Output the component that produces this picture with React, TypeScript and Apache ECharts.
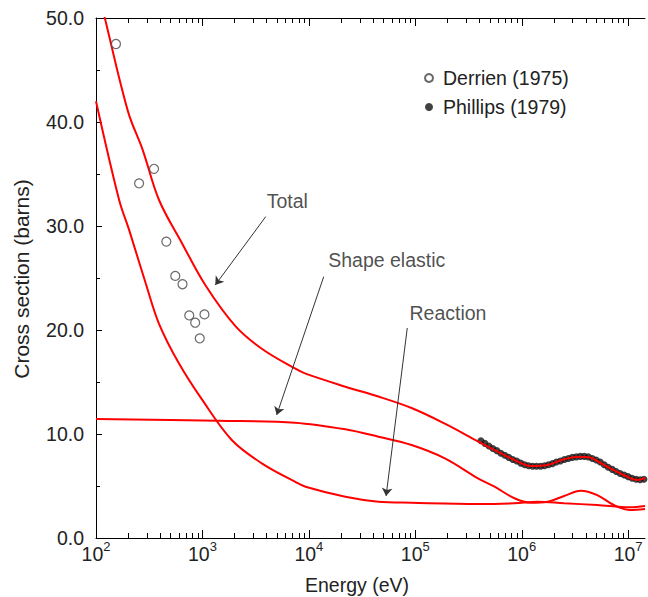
import React, { useEffect, useRef } from 'react';
import * as echarts from 'echarts';

const FONT = '"Liberation Sans", Arial, Helvetica, sans-serif';

// Total cross section (energy eV, barns)
const totalEnergy = [100, 121, 200, 275, 391, 646, 1067, 2032, 3614, 7396, 9311, 22030, 45080, 92260, 189700, 388100, 597000, 918300, 1.213e6, 1.75e6, 2.506e6, 3.459e6, 4.295e6, 5.93e6, 9.12e6, 1.213e7, 1.442e7];
const totalSigma = [53.5, 50.0, 41.0, 37.3, 32.5, 28.3, 24.3, 20.4, 18.2, 16.3, 15.8, 14.55, 13.6, 12.5, 11.0, 9.3, 8.3, 7.34, 6.92, 7.02, 7.57, 7.82, 7.76, 7.02, 6.06, 5.58, 5.77];

// Shape elastic
const elasticEnergy = [100, 1419, 7396, 22030, 45080, 92260, 189700, 388100, 555900, 855000, 1.213e6, 1.75e6, 2.506e6, 3.581e6, 5.129e6, 7.345e6, 1.045e7, 1.442e7];
const elasticSigma = [11.44, 11.28, 11.09, 10.45, 9.74, 8.94, 7.66, 5.74, 4.93, 3.82, 3.39, 3.49, 4.04, 4.55, 4.13, 3.17, 2.69, 2.79];

// Reaction
const reactionEnergy = [100, 165, 205, 293, 391, 601, 993, 1897, 3614, 7396, 9311, 22030, 45080, 92260, 388100, 855000, 1.413e6, 2.506e6, 5.129e6, 1.045e7, 1.442e7];
const reactionSigma = [42.0, 32.5, 29.6, 24.5, 20.6, 16.8, 13.3, 9.4, 7.18, 5.41, 4.93, 3.97, 3.49, 3.39, 3.27, 3.34, 3.49, 3.34, 3.17, 2.95, 3.08];

// Derrien (1975) open circles
const derrienEnergy = [154, 254, 351, 458, 556, 650, 752, 855, 1045, 944];
const derrienSigma = [47.5, 34.1, 35.5, 28.5, 25.2, 24.4, 21.4, 20.7, 21.5, 19.2];

// Phillips (1979) filled circles
const phillipsEnergy = [4.14e5, 4.51e5, 4.92e5, 5.36e5, 5.84e5, 6.37e5, 6.94e5, 7.56e5, 8.24e5, 8.98e5, 9.79e5, 1.067e6, 1.163e6, 1.268e6, 1.38e6, 1.505e6, 1.64e6, 1.787e6, 1.948e6, 2.123e6, 2.314e6, 2.522e6, 2.749e6, 2.996e6, 3.266e6, 3.56e6, 3.88e6, 4.23e6, 4.61e6, 5.02e6, 5.47e6, 5.97e6, 6.5e6, 7.09e6, 7.72e6, 8.42e6, 9.18e6, 1.0e7, 1.09e7, 1.188e7, 1.295e7, 1.41e7];
const phillipsSigma = [9.35, 9.1, 8.85, 8.6, 8.4, 8.15, 7.95, 7.75, 7.55, 7.4, 7.2, 7.05, 6.95, 6.9, 6.9, 6.9, 6.95, 7.05, 7.15, 7.3, 7.4, 7.55, 7.65, 7.75, 7.8, 7.85, 7.85, 7.8, 7.65, 7.5, 7.3, 7.05, 6.8, 6.6, 6.4, 6.2, 6.05, 5.9, 5.75, 5.65, 5.6, 5.65];

// Annotations
const annotationText = ['Total', 'Shape elastic', 'Reaction'];
const annotationEnergy = [6270, 53950, 203000];
const annotationSigma = [32.36, 26.7, 21.6];
const arrowFromEnergy = [3936, 13800, 84140];
const arrowFromSigma = [30.9, 25.13, 20.19];
const arrowToEnergy = [1321, 4990, 53200];
const arrowToSigma = [24.33, 11.83, 4.04];

const xMin = 100;
const xMax = 1.442e7;
const yTicks = [0, 10, 20, 30, 40, 50];

// x-axis tick positions: [value, isMajor]
const xTickValues: number[][] = [];
for (let n = 2; n <= 7; n++) {
  for (let k = 1; k <= 9; k++) {
    const v = k * Math.pow(10, n);
    if (v < xMax) xTickValues.push([v, k === 1 ? 1 : 0]);
  }
}

const zip = (a: number[], b: number[]) => a.map((v, i) => [v, b[i]]);

export default function App() {
  const ref = useRef<HTMLDivElement>(null);
  useEffect(() => {
    document.body.style.margin = '0';
    const chart = echarts.init(ref.current!, null, { renderer: 'svg' });
    const redLine = (name: string, data: number[][]) => ({
      name,
      type: 'line',
      data,
      smooth: 0.35,
      showSymbol: false,
      symbol: 'none',
      lineStyle: { color: '#ff0000', width: 2 },
      itemStyle: { color: '#ff0000' },
      silent: true,
      z: 3,
    });
    const option: any = {
      animation: false,
      backgroundColor: '#ffffff',
      textStyle: { fontFamily: FONT },
      grid: { left: 96, top: 18, right: 0, bottom: 59, containLabel: false },
      legend: {
        data: ['Derrien (1975)', 'Phillips (1979)'],
        orient: 'vertical',
        left: 424,
        top: 68,
        padding: 0,
        itemWidth: 18,
        itemHeight: 8,
        itemGap: 9,
        selectedMode: false,
        textStyle: { fontSize: 19.5, color: '#222', fontFamily: FONT, lineHeight: 18 },
      },
      xAxis: [
        {
          type: 'log',
          logBase: 10,
          min: xMin,
          max: xMax,
          position: 'bottom',
          splitLine: { show: false },
          axisLine: { onZero: false, lineStyle: { color: '#000', width: 1 } },
          axisTick: { show: false },
          axisLabel: {
            margin: 2,
            formatter: (v: number) => {
              const n = Math.round(Math.log10(v));
              if (Math.abs(Math.log10(v) - n) > 1e-6 || n > 7) return '';
              return '{a|10}{b|' + n + '}';
            },
            rich: {
              a: { fontSize: 19.5, lineHeight: 28, color: '#222', fontFamily: FONT },
              b: { fontSize: 13, lineHeight: 13, verticalAlign: 'top', color: '#222', fontFamily: FONT },
            },
          },
        },
        {
          type: 'log',
          logBase: 10,
          min: xMin,
          max: xMax,
          position: 'top',
          splitLine: { show: false },
          axisLine: { onZero: false, lineStyle: { color: '#000', width: 1 } },
          axisTick: { show: false },
          axisLabel: { show: false },
        },
      ],
      yAxis: {
        type: 'value',
        min: yTicks[0],
        max: yTicks[yTicks.length - 1],
        interval: 10,
        splitLine: { show: false },
        axisLine: { show: true, onZero: false, lineStyle: { color: '#000', width: 1 } },
        axisTick: { show: true, inside: true, length: 6, lineStyle: { color: '#000' } },
        minorTick: { show: true, splitNumber: 2, length: 4, lineStyle: { color: '#000' } },
        axisLabel: {
          margin: 12,
          fontSize: 19.5,
          color: '#222',
          fontFamily: FONT,
          formatter: (v: number) => v.toFixed(1),
        },
      },
      graphic: [
        {
          type: 'text',
          x: 357,
          y: 585,
          style: {
            text: 'Energy (eV)',
            fontSize: 19.5,
            fontFamily: FONT,
            fill: '#222',
            align: 'center',
            verticalAlign: 'middle',
          },
        },
        {
          type: 'text',
          x: 21,
          y: 279,
          rotation: Math.PI / 2,
          style: {
            text: 'Cross section (barns)',
            fontSize: 21,
            fontFamily: FONT,
            fill: '#222',
            align: 'center',
            verticalAlign: 'middle',
          },
        },
      ],
      series: [
        {
          type: 'custom',
          name: 'xTicks',
          xAxisIndex: 1,
          yAxisIndex: 0,
          silent: true,
          clip: false,
          data: xTickValues,
          encode: { x: 0, y: 1 },
          renderItem: (params: any, api: any) => {
            const x = Math.round(api.coord([api.value(0), 0])[0]) + 0.5;
            const len = api.value(1) === 1 ? 8 : 5;
            const top = params.coordSys.y;
            const bottom = params.coordSys.y + params.coordSys.height;
            return {
              type: 'group',
              children: [
                { type: 'line', shape: { x1: x, y1: bottom, x2: x, y2: bottom - len }, style: { stroke: '#000', lineWidth: 1 } },
                { type: 'line', shape: { x1: x, y1: top, x2: x, y2: top + len }, style: { stroke: '#000', lineWidth: 1 } },
              ],
            };
          },
        },
        {
          name: 'Phillips (1979)',
          type: 'scatter',
          data: zip(phillipsEnergy, phillipsSigma),
          symbol: 'circle',
          symbolSize: 7,
          itemStyle: { color: '#111' },
          silent: true,
          z: 2,
        },
        redLine('Total', zip(totalEnergy, totalSigma)),
        redLine('Shape elastic', zip(elasticEnergy, elasticSigma)),
        redLine('Reaction', zip(reactionEnergy, reactionSigma)),
        {
          name: 'Derrien (1975)',
          type: 'scatter',
          data: zip(derrienEnergy, derrienSigma),
          symbol: 'circle',
          symbolSize: 9,
          itemStyle: { color: '#ffffff', borderColor: '#444', borderWidth: 1.2 },
          silent: true,
          z: 4,
        },
        {
          name: 'annotations',
          type: 'scatter',
          data: annotationText.map((t, i) => [annotationEnergy[i], annotationSigma[i], t]),
          symbolSize: 1,
          itemStyle: { color: 'rgba(0,0,0,0)' },
          silent: true,
          label: {
            show: true,
            position: 'inside',
            formatter: (p: any) => p.value[2],
            fontSize: 19.5,
            fontFamily: FONT,
            color: '#222',
          },
          markLine: {
            silent: true,
            symbol: ['none', 'arrow'],
            symbolSize: 8,
            label: { show: false },
            lineStyle: { color: '#333', width: 1, type: 'solid' },
            emphasis: { disabled: true },
            data: arrowFromEnergy.map((e, i) => [
              { coord: [e, arrowFromSigma[i]] },
              { coord: [arrowToEnergy[i], arrowToSigma[i]] },
            ]),
          },
          z: 5,
        },
      ],
    };
    chart.setOption(option);
    return () => chart.dispose();
  }, []);
  return <div ref={ref} style={{ width: 648, height: 597 }} />;
}
